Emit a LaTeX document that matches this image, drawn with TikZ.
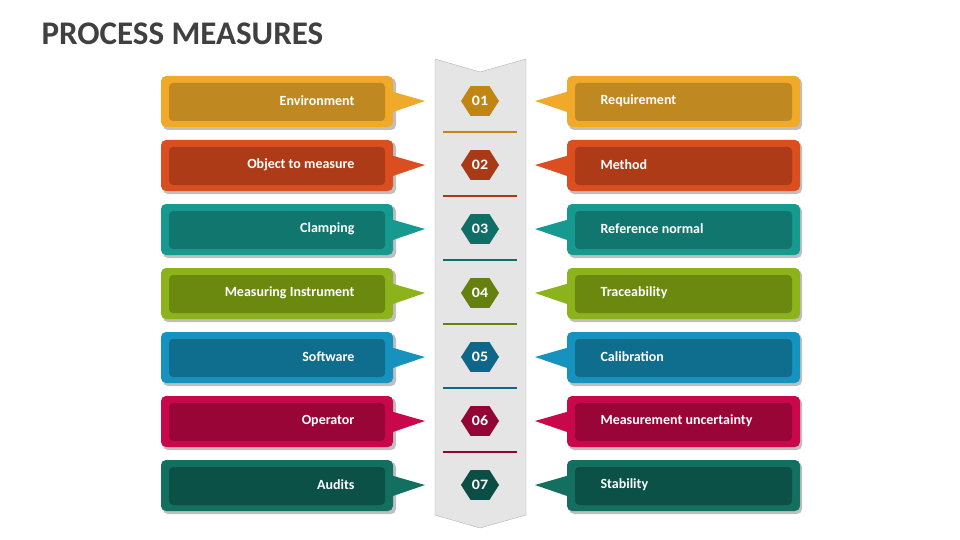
\documentclass[tikz,border=0pt]{standalone}
\usepackage{fontspec}
\setmainfont{Carlito}
\usetikzlibrary{shapes.geometric}
\definecolor{oA}{HTML}{F0A928}\definecolor{iA}{HTML}{C08820}\definecolor{hA}{HTML}{C08513}
\definecolor{oB}{HTML}{DB4E1F}\definecolor{iB}{HTML}{AE3B17}\definecolor{hB}{HTML}{A83A16}
\definecolor{oC}{HTML}{16998F}\definecolor{iC}{HTML}{11766E}\definecolor{hC}{HTML}{0F6E66}
\definecolor{oD}{HTML}{8DB31C}\definecolor{iD}{HTML}{6B880F}\definecolor{hD}{HTML}{66800F}
\definecolor{oE}{HTML}{1592BD}\definecolor{iE}{HTML}{0F6D8E}\definecolor{hE}{HTML}{0E6688}
\definecolor{oF}{HTML}{C9084B}\definecolor{iF}{HTML}{9A0538}\definecolor{hF}{HTML}{930535}
\definecolor{oG}{HTML}{137061}\definecolor{iG}{HTML}{0B5148}\definecolor{hG}{HTML}{0B4E45}
\definecolor{titlegray}{HTML}{404040}
\tikzset{
 outerbox/.style={rounded corners=5pt},
 innerbox/.style={rounded corners=4pt},
 lbl/.style={text=white,font=\fontsize{14}{16}\selectfont\bfseries},
 hexnode/.style={regular polygon,regular polygon sides=6,shape border rotate=0,minimum size=38pt,inner sep=0pt,text=white,font=\fontsize{16}{18}\selectfont\bfseries,yscale=0.9}
}
\begin{document}
\begin{tikzpicture}[x=1pt,y=-1pt]
\useasboundingbox (0,0) rectangle (960,540);
\node[anchor=west,text=titlegray,font=\fontsize{33}{36}\selectfont\bfseries] (title) at (38,34) {PROCESS MEASURES};
% central strip
\draw[fill=black!10,draw=black!30] (435,59) -- (480,72) -- (526,59) -- (526,515) -- (480,528) -- (435,515) -- cycle;
\foreach \i/\c/\l/\r in {0/A/Environment/Requirement,1/B/Object to measure/Method,2/C/Clamping/Reference normal,3/D/Measuring Instrument/Traceability,4/E/Software/Calibration,5/F/Operator/Measurement uncertainty,6/G/Audits/Stability}{
 \pgfmathsetmacro{\y}{101+64*\i}
 % shadows
 \fill[black!25,outerbox] (163,\y-23) rectangle (396,\y+29);
 \fill[black!25,outerbox] (569,\y-23) rectangle (802,\y+29);
 % left
 \fill[o\c] (390,\y-10) -- (425,\y) -- (390,\y+12) -- cycle;
 \fill[o\c,outerbox] (161,\y-25) rectangle (393,\y+26);
 \fill[i\c,innerbox] (169,\y-18) rectangle (385,\y+20);
 \node[lbl,anchor=east] (L\i) at (358,\y) {\l};
 % right
 \fill[o\c] (570,\y-10) -- (535,\y) -- (570,\y+12) -- cycle;
 \fill[o\c,outerbox] (567,\y-25) rectangle (800,\y+26);
 \fill[i\c,innerbox] (575,\y-18) rectangle (792,\y+20);
 \node[lbl,anchor=west] (R\i) at (597,\y) {\r};
 % hex
 \node[hexnode,fill=h\c] (H\i) at (480,\y) {\pgfmathparse{int(\i+1)}0\pgfmathresult};
 \ifnum\i<6 \draw[h\c,line width=1.5pt] (443,\y+31) -- (517,\y+31);\fi
}
\end{tikzpicture}
\end{document}
